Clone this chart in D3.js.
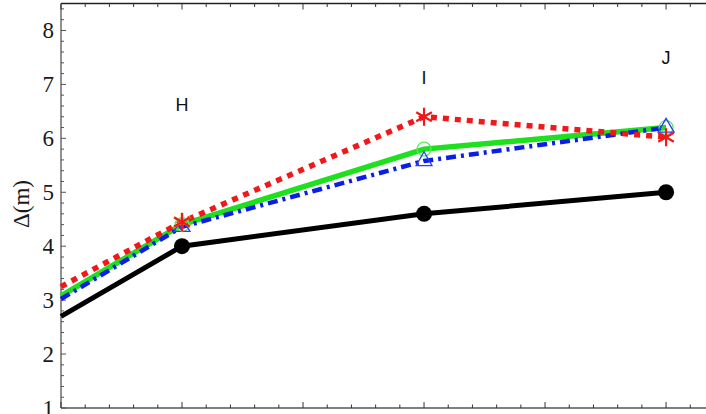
<!DOCTYPE html>
<html><head><meta charset="utf-8">
<script src="https://cdn.jsdelivr.net/npm/d3@7"></script>
<style>body{margin:0;background:#fff}svg{display:block}
.serif{font-family:'Liberation Serif','DejaVu Serif','Times New Roman',serif}
.sans{font-family:'Liberation Sans',Arial,sans-serif}</style>
</head><body>
<svg id="c" width="706" height="414"></svg>
<script>
const xs = [0, 1, 3, 5];
const pointLabels = ["H", "I", "J"];
const labelYs = [6.5, 7.0, 7.38];
const yTicks = [1, 2, 3, 4, 5, 6, 7, 8];
const black = [2.7, 4.0, 4.6, 5.0];
const green = [3.08, 4.4, 5.8, 6.2];
const blue = [3.02, 4.36, 5.58, 6.2];
const red = [3.25, 4.45, 6.4, 6.02];

const svg = d3.select("#c");
const x = d3.scaleLinear().domain([0, 5.33]).range([61, 706]);
const y = d3.scaleLinear().domain([1, 8.5]).range([408, 3.5]);

const g = svg.append("g");
const axC = "#555";
g.append("line").attr("x1", 61).attr("x2", 706).attr("y1", 408).attr("y2", 408).attr("stroke", axC).attr("stroke-width", 1.3);
g.append("line").attr("x1", 61).attr("x2", 706).attr("y1", 3.5).attr("y2", 3.5).attr("stroke", "#222").attr("stroke-width", 1.3);
g.append("line").attr("x1", 61).attr("x2", 61).attr("y1", 3.5).attr("y2", 408).attr("stroke", axC).attr("stroke-width", 1.3);

const yMinor = d3.range(1, 8.5001, 0.2);
yMinor.forEach(v => {
  const major = Math.abs(v - Math.round(v)) < 1e-6;
  g.append("line").attr("x1", 61).attr("x2", 61 + (major ? 5 : 3))
    .attr("y1", y(v)).attr("y2", y(v)).attr("stroke", axC).attr("stroke-width", 1);
});
g.selectAll(".yl").data(yTicks).enter().append("text").attr("class", "serif")
  .attr("x", 54).attr("y", d => y(d) + 8).attr("text-anchor", "end")
  .attr("font-size", 23).attr("fill", "#1a1a1a").text(d => d);

const xMinor = d3.range(0, 5.33, 0.2);
xMinor.forEach(v => {
  const major = Math.abs(v - Math.round(v)) < 1e-6;
  const L = major ? 6 : 3.5;
  g.append("line").attr("x1", x(v)).attr("x2", x(v)).attr("y1", 408).attr("y2", 408 - L).attr("stroke", "#333").attr("stroke-width", 1);
  g.append("line").attr("x1", x(v)).attr("x2", x(v)).attr("y1", 3.5).attr("y2", 3.5 + L).attr("stroke", "#333").attr("stroke-width", 1);
});

g.append("text").attr("class", "serif").attr("transform", "translate(29,204) rotate(-90)").attr("text-anchor", "middle")
  .attr("font-size", 23).attr("fill", "#1a1a1a").text("\u0394(m)");

const line = d3.line().x((d, i) => x(xs[i])).y(d => y(d));
const plot = svg.append("g");
plot.append("path").datum(black).attr("d", line).attr("fill", "none").attr("stroke", "#000").attr("stroke-width", 5);
plot.append("path").datum(green).attr("d", line).attr("fill", "none").attr("stroke", "#1ee01e").attr("stroke-width", 5.5);
plot.append("path").datum(blue).attr("d", line).attr("fill", "none").attr("stroke", "#0a1ee6").attr("stroke-width", 4.5).attr("stroke-dasharray", "10,5,3,5");
plot.append("path").datum(red).attr("d", line).attr("fill", "none").attr("stroke", "#f01818").attr("stroke-width", 5.5).attr("stroke-dasharray", "6,6");

const mk = d => d.slice(1).map((v, i) => ({x: xs[i + 1], y: v}));
plot.selectAll(".bc").data(mk(black)).enter().append("circle")
  .attr("cx", d => x(d.x)).attr("cy", d => y(d.y)).attr("r", 8).attr("fill", "#000");
plot.selectAll(".gc").data(mk(green)).enter().append("circle")
  .attr("cx", d => x(d.x)).attr("cy", d => y(d.y)).attr("r", 7).attr("fill", "none").attr("stroke", "#5ee85e").attr("stroke-width", 1.3);
const tri = d3.symbol().type(d3.symbolTriangle).size(110);
plot.selectAll(".bt").data(mk(blue)).enter().append("path")
  .attr("d", tri).attr("transform", d => `translate(${x(d.x)},${y(d.y)})`)
  .attr("fill", "none").attr("stroke", "#2a3aff").attr("stroke-width", 1.3);
const star = (r) => { let p = ""; for (let k = 0; k < 6; k++) { const a = k * Math.PI / 3 - Math.PI / 2; p += `M0,0L${(r * Math.cos(a)).toFixed(2)},${(r * Math.sin(a)).toFixed(2)}`; } return p; };
plot.selectAll(".ys").data(mk(red).slice(0, 1)).enter().append("path")
  .attr("d", star(9.5)).attr("transform", d => `translate(${x(d.x)},${y(d.y)})`)
  .attr("stroke", "#e0c848").attr("stroke-width", 2.5).attr("fill", "none");
plot.selectAll(".rs").data(mk(red)).enter().append("path")
  .attr("d", star(9)).attr("transform", d => `translate(${x(d.x)},${y(d.y)})`)
  .attr("stroke", "#f01818").attr("stroke-width", 2.2).attr("fill", "none");

svg.selectAll(".pl").data(pointLabels).enter().append("text").attr("class", "sans")
  .attr("x", (d, i) => x(xs[i + 1])).attr("y", (d, i) => y(labelYs[i]))
  .attr("text-anchor", "middle").attr("font-size", 18)
  .attr("fill", "#111").text(d => d);
</script>
</body></html>
